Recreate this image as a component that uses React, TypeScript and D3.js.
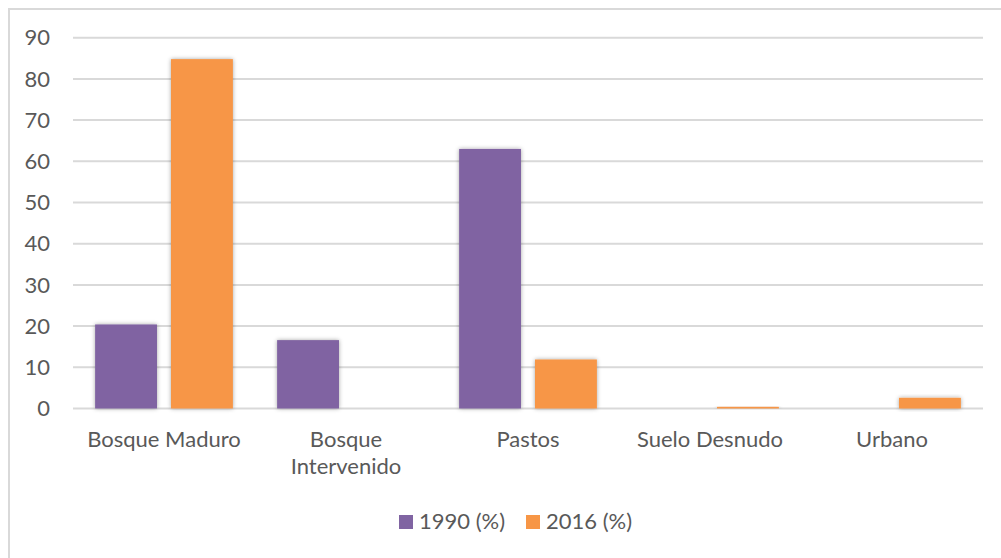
import React from "react";
import * as d3 from "d3";

const categories = ["Bosque Maduro", "Bosque Intervenido", "Pastos", "Suelo Desnudo", "Urbano"];
const categoryLines = [["Bosque Maduro"], ["Bosque", "Intervenido"], ["Pastos"], ["Suelo Desnudo"], ["Urbano"]];
const series1990 = [20.4, 16.6, 63.0, 0, 0];
const series2016 = [84.8, 0, 11.9, 0.4, 2.6];
const seriesNames = ["1990 (%)", "2016 (%)"];
const yTicks = [0, 10, 20, 30, 40, 50, 60, 70, 80, 90];
const colors = ["#8064A2", "#F79646"];

const W = 1001;
const H = 558;
const plotLeft = 73;
const plotRight = 983;
const FONT = "Lato, 'Open Sans', sans-serif";
const FS = 22;
const TEXT = "#595959";

export default function App() {
  const x = d3.scaleBand<string>().domain(categories).range([plotLeft, plotRight]).padding(0);
  const y = d3.scaleLinear().domain([0, 90]).range([408.5, 37.7]);
  const cat = x.bandwidth();
  const barW = cat * 0.34;
  const gap = cat * 0.077;
  const series = [series1990, series2016];

  return (
    <svg width={W} height={H} style={{ position: "absolute", left: 0, top: 0, background: "#fff" }}>
      <defs>
        <filter id="sh" x="-30%" y="-30%" width="160%" height="160%">
          <feDropShadow dx="0" dy="0" stdDeviation="2.2" floodColor="#000" floodOpacity="0.35" />
        </filter>
      </defs>
      <rect x={0} y={0} width={W} height={H} fill="#fff" />
      <rect x={9} y={9} width={W + 20} height={H + 20} fill="none" stroke="#d9d9d9" strokeWidth={2} />
      {yTicks.map((t) => (
        <g key={t}>
          <line x1={plotLeft} x2={plotRight} y1={y(t)} y2={y(t)} stroke="#d9d9d9" strokeWidth={2} />
          <text x={50} y={y(t)} dy="0.35em" textAnchor="end" fontFamily={FONT} fontSize={FS} fill={TEXT}>
            {t}
          </text>
        </g>
      ))}
      {series.map((vals, si) =>
        vals.map((v, i) => {
          if (v <= 0) return null;
          const cx = (x(categories[i]) as number) + cat / 2;
          const bx = si === 0 ? cx - gap / 2 - barW : cx + gap / 2;
          return (
            <rect
              key={`${si}-${i}`}
              x={bx}
              y={y(v)}
              width={barW}
              height={y(0) - y(v)}
              fill={colors[si]}
              filter="url(#sh)"
            />
          );
        })
      )}
      {categoryLines.map((lines, i) => {
        const cx = (x(categories[i]) as number) + cat / 2;
        return (
          <text key={i} textAnchor="middle" fontFamily={FONT} fontSize={FS} fill={TEXT}>
            {lines.map((l, li) => (
              <tspan key={li} x={cx} y={447 + li * 27}>
                {l}
              </tspan>
            ))}
          </text>
        );
      })}
      {seriesNames.map((n, i) => {
        const lx = [399, 526][i];
        return (
          <g key={n}>
            <rect x={lx} y={515} width={14} height={14} fill={colors[i]} />
            <text x={lx + 20} y={529} fontFamily={FONT} fontSize={FS} fill={TEXT}>
              {n}
            </text>
          </g>
        );
      })}
    </svg>
  );
}
